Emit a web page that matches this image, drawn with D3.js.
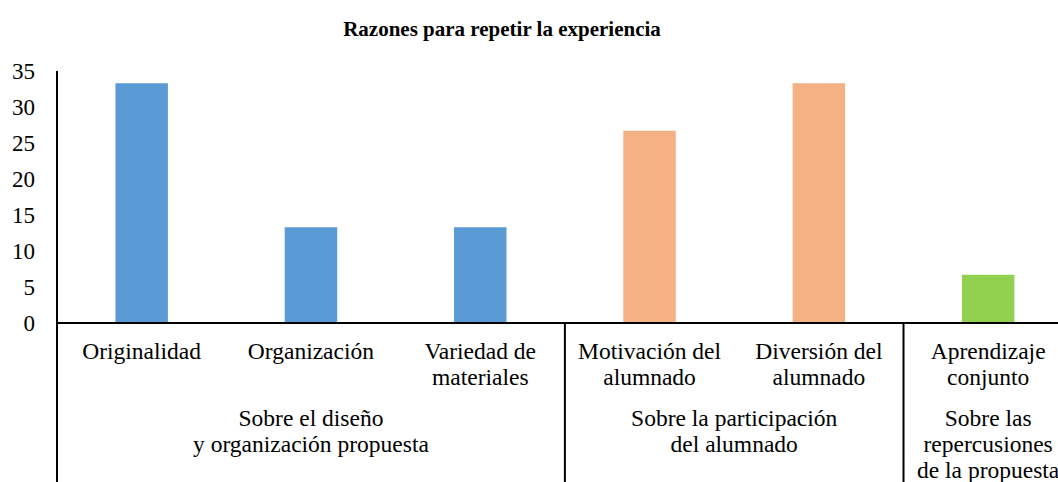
<!DOCTYPE html>
<html>
<head>
<meta charset="utf-8">
<script src="https://cdn.jsdelivr.net/npm/d3@7"></script>
<style>
  html, body { margin: 0; padding: 0; background: #fff; }
  svg { display: block; }
  text { font-family: "Liberation Serif", "Times New Roman", serif; fill: #000; }
</style>
</head>
<body>
<svg id="chart" width="1058" height="482"></svg>
<script>
const title = "Razones para repetir la experiencia";
const categories = ["Originalidad", "Organización", "Variedad de materiales", "Motivación del alumnado", "Diversión del alumnado", "Aprendizaje conjunto"];
const categoryLines = [["Originalidad"], ["Organización"], ["Variedad de", "materiales"], ["Motivación del", "alumnado"], ["Diversión del", "alumnado"], ["Aprendizaje", "conjunto"]];
const values = [33.3, 13.3, 13.3, 26.7, 33.3, 6.7];
const groupOf = [0, 0, 0, 1, 1, 2];
const groupLines = [["Sobre el diseño", "y organización propuesta"], ["Sobre la participación", "del alumnado"], ["Sobre las", "repercusiones", "de la propuesta"]];
const groupColors = ["#5B9BD5", "#F4B183", "#92D050"];
const yTicks = [0, 5, 10, 15, 20, 25, 30, 35];

const svg = d3.select("#chart");
const W = 1058, H = 482;
const x0 = 57, axisY = 323, topY = 71;
const step = 169.3;

const x = d3.scaleBand().domain(categories)
  .range([x0, x0 + step * categories.length])
  .paddingInner(0.69).paddingOuter(0.345);
const y = d3.scaleLinear().domain([0, 35]).range([axisY, topY]);
const gap = (x.step() - x.bandwidth()) / 2;

// title
svg.append("text").attr("x", 502).attr("y", 36).attr("text-anchor", "middle")
  .style("font-size", "21px").style("font-weight", "bold").text(title);

// bars
svg.selectAll("rect.bar").data(values).enter().append("rect")
  .attr("class", "bar")
  .attr("x", (d, i) => x(categories[i]))
  .attr("width", x.bandwidth())
  .attr("y", d => y(d))
  .attr("height", d => y(0) - y(d))
  .attr("fill", (d, i) => groupColors[groupOf[i]]);

// y axis
const yAxis = d3.axisLeft(y).tickValues(yTicks).tickSize(0).tickPadding(22).tickFormat(d3.format("d"));
const gy = svg.append("g").attr("transform", `translate(${x0},0)`).call(yAxis);
gy.select(".domain").remove();
gy.selectAll("text").style("font-size", "23px").attr("fill", "#000");

// axis lines
svg.append("line").attr("x1", x0).attr("x2", x0).attr("y1", topY).attr("y2", H)
  .attr("stroke", "#000").attr("stroke-width", 2);
svg.append("line").attr("x1", x0).attr("x2", W).attr("y1", axisY).attr("y2", axisY)
  .attr("stroke", "#000").attr("stroke-width", 2);

// group separators
for (let i = 1; i < categories.length; i++) {
  if (groupOf[i] !== groupOf[i - 1]) {
    const xs = x(categories[i]) - gap;
    svg.append("line").attr("x1", xs).attr("x2", xs).attr("y1", axisY).attr("y2", H)
      .attr("stroke", "#000").attr("stroke-width", 2);
  }
}

// category labels
categoryLines.forEach((lines, i) => {
  const cx = x(categories[i]) + x.bandwidth() / 2;
  const t = svg.append("text").attr("text-anchor", "middle").style("font-size", "23.5px");
  lines.forEach((ln, j) => {
    t.append("tspan").attr("x", cx).attr("y", 359 + j * 26).text(ln);
  });
});

// group labels
groupLines.forEach((lines, g) => {
  const idx = categories.map((c, i) => i).filter(i => groupOf[i] === g);
  const left = x(categories[idx[0]]) - gap;
  const right = x(categories[idx[idx.length - 1]]) + x.bandwidth() + gap;
  const cx = (left + right) / 2;
  const t = svg.append("text").attr("text-anchor", "middle").style("font-size", "23.5px");
  lines.forEach((ln, j) => {
    t.append("tspan").attr("x", cx).attr("y", 426 + j * 26).text(ln);
  });
});
</script>
</body>
</html>
